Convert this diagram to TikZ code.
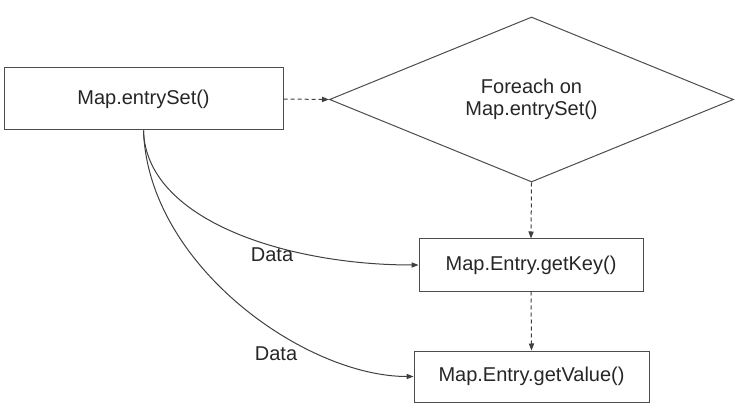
\documentclass[tikz,border=0pt]{standalone}
\usepackage{fontspec}
\setmainfont{Liberation Sans}
\usetikzlibrary{shapes.geometric,arrows.meta}

\begin{document}
\begin{tikzpicture}[x=0.5pt, y=-0.5pt,
    every node/.style={font=\fontsize{10}{10.7}\selectfont, text=black!85},
    box/.style={draw=black!70, line width=0.5pt, inner sep=0pt},
    decide/.style={draw=black!70, line width=0.5pt, diamond, aspect=2.44, inner sep=0pt,
        minimum width=202pt, minimum height=82.5pt, align=center},
    flow/.style={draw=black!75, line width=0.5pt, -{Triangle[length=3.5pt,width=2.6pt]}},
    ctrl/.style={flow, dash pattern=on 2pt off 1.5pt}]

% Fix the canvas
\useasboundingbox (0,0) rectangle (742,416);

% Boxes and the decision
\node[box, minimum width=139.5pt, minimum height=31pt] (entry) at (143.5,99) {Map.entrySet()};
\node[decide] (loop) at (531.5,99.5) {Foreach on\\Map.entrySet()};
\node[box, minimum width=112pt, minimum height=26pt] (key) at (531,265) {Map.Entry.getKey()};
\node[box, minimum width=117.5pt, minimum height=25.5pt] (value) at (531.5,376.5) {Map.Entry.getValue()};

% Control flow
\draw[ctrl] (entry.east) -- (loop.west);
\draw[ctrl] (loop.south) -- (key.north);
\draw[ctrl] (key.south) -- (value.north);

% Data flow
\draw[flow] (entry.south) .. controls +(2.5,90) and +(-131,0) .. (key.west);
\draw[flow] (entry.south) .. controls +(4.5,135) and +(-108,0) .. (value.west);

% Labels on the curves
\node (data1) at (272,255) {Data};
\node (data2) at (276,354) {Data};

\end{tikzpicture}
\end{document}
